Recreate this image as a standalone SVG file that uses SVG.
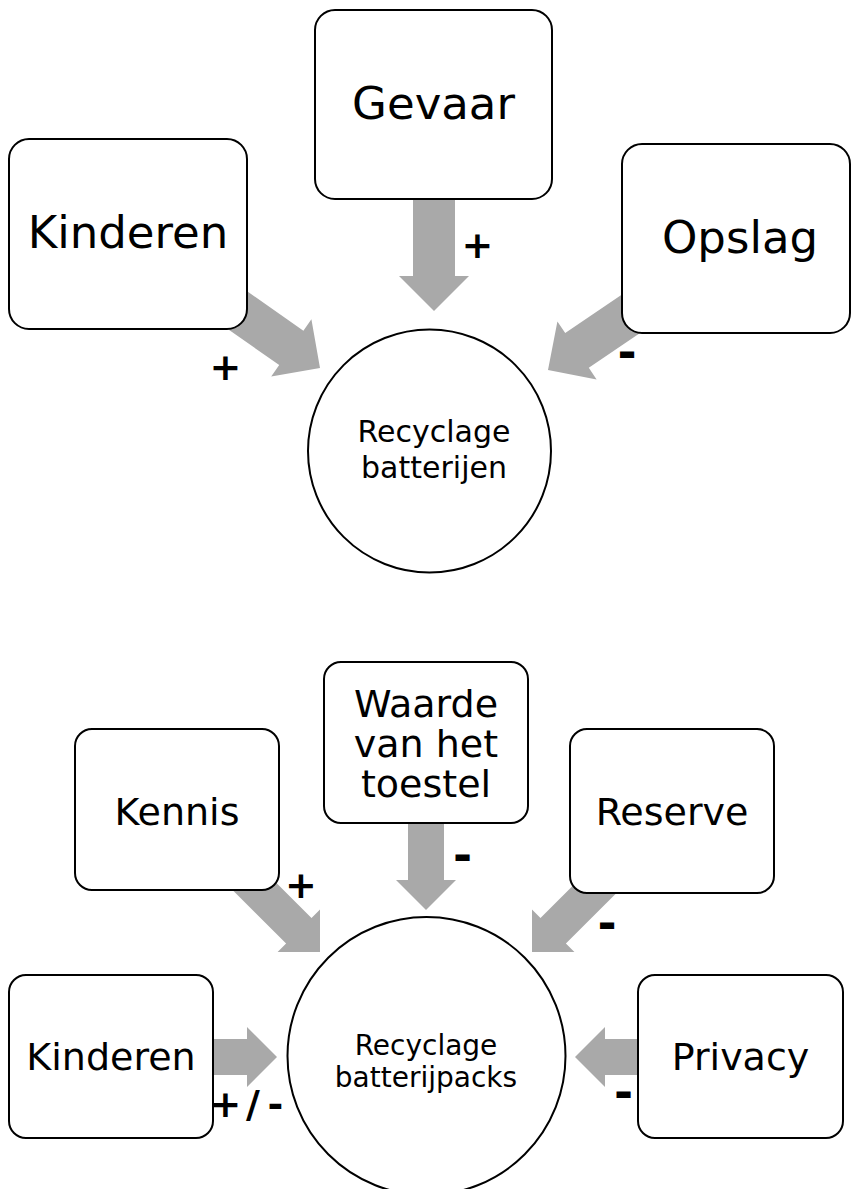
<svg xmlns="http://www.w3.org/2000/svg" width="851" height="1189" viewBox="0 0 851 1189">
  <style>
    .box { fill: #ffffff; stroke: #000000; stroke-width: 2; }
    .hub { fill: #ffffff; stroke: #000000; stroke-width: 2; }
    .arrow { fill: #A9A9A9; stroke: none; }
    .lbl { font-family: "DejaVu Sans", Verdana, sans-serif; fill: #000000; text-anchor: middle; }
    .big { font-size: 45px; }
    .mid { font-size: 38px; }
    .hubtxt { font-size: 30px; }
    .hubtxt2 { font-size: 28px; }
    .sign { font-family: "DejaVu Sans", Verdana, sans-serif; font-weight: bold; fill: #000000; text-anchor: middle; }
  </style>

  <rect x="0" y="0" width="851" height="1189" fill="#ffffff"/>

  <!-- block arrows (drawn first so the boxes cover their tails) -->
  <g id="connectors">
    <!-- upper diagram -->
    <polygon class="arrow" points="205.5,313.5 279.2,365.1 271.2,376.6 320,368 311.4,319.2 303.4,330.7 229.7,279.1"/>
    <polygon class="arrow" points="413,180 413,276 399,276 434,311 469,276 455,276 455,180"/>
    <polygon class="arrow" points="639.7,282.5 565.2,333 557.4,321.4 548,370 596.6,379.4 588.8,367.8 663.3,317.3"/>
    <!-- lower diagram -->
    <polygon class="arrow" points="229.5,886.9 286.1,943.5 277.6,952 320,952 320,909.6 311.5,918.1 254.9,861.5"/>
    <polygon class="arrow" points="408,800 408,880 396,880 426,910 456,880 444,880 444,800"/>
    <polygon class="arrow" points="597.1,861.5 540.5,918.1 532,909.6 532,952 574.4,952 565.9,943.5 622.5,886.9"/>
    <polygon class="arrow" points="180,1039 247,1039 247,1027 277,1057 247,1087 247,1075 180,1075"/>
    <polygon class="arrow" points="670,1039 605,1039 605,1027 575,1057 605,1087 605,1075 670,1075"/>

    <!-- influence signs -->
    <text class="sign" x="225.5" y="380" font-size="38">+</text>
    <text class="sign" x="477.5" y="258" font-size="38">+</text>
    <text class="sign" x="627" y="368" font-size="46">-</text>
    <text class="sign" x="301" y="898" font-size="38">+</text>
    <text class="sign" x="462.5" y="871" font-size="46">-</text>
    <text class="sign" x="607" y="939" font-size="46">-</text>
    <text class="sign" x="623.5" y="1108" font-size="46">-</text>
    <text class="sign" x="225.5 253 275.5" y="1117" font-size="38">+/-</text>
  </g>

  <!-- upper diagram: recycling of batteries -->
  <g id="kinderen-top">
    <rect class="box" x="9" y="139" width="238" height="190" rx="20"/>
    <text class="lbl big" x="128" y="248">Kinderen</text>
  </g>
  <g id="gevaar">
    <rect class="box" x="315" y="10" width="237" height="189" rx="20"/>
    <text class="lbl big" x="433.5" y="119">Gevaar</text>
  </g>
  <g id="opslag">
    <rect class="box" x="622" y="144" width="228" height="189" rx="20"/>
    <text class="lbl big" x="740" y="253">Opslag</text>
  </g>
  <g id="recyclage-batterijen">
    <circle class="hub" cx="429.5" cy="451" r="121.5"/>
    <text class="lbl hubtxt" x="434" y="442">Recyclage</text>
    <text class="lbl hubtxt" x="434" y="478">batterijen</text>
  </g>

  <!-- lower diagram: recycling of battery packs -->
  <g id="kennis">
    <rect class="box" x="75" y="729" width="204" height="161" rx="17"/>
    <text class="lbl mid" x="177" y="825">Kennis</text>
  </g>
  <g id="waarde">
    <rect class="box" x="324" y="662" width="204" height="161" rx="17"/>
    <text class="lbl mid" x="426" y="717">Waarde</text>
    <text class="lbl mid" x="426" y="757">van het</text>
    <text class="lbl mid" x="426" y="797">toestel</text>
  </g>
  <g id="reserve">
    <rect class="box" x="570" y="729" width="204" height="164" rx="17"/>
    <text class="lbl mid" x="672" y="825">Reserve</text>
  </g>
  <g id="kinderen-bottom">
    <rect class="box" x="9" y="975" width="204" height="163" rx="17"/>
    <text class="lbl mid" x="111" y="1070">Kinderen</text>
  </g>
  <g id="privacy">
    <rect class="box" x="638" y="975" width="205" height="163" rx="17"/>
    <text class="lbl mid" x="740.5" y="1070">Privacy</text>
  </g>
  <g id="recyclage-batterijpacks">
    <circle class="hub" cx="426.5" cy="1056" r="139"/>
    <text class="lbl hubtxt2" x="426" y="1055">Recyclage</text>
    <text class="lbl hubtxt2" x="426" y="1087">batterijpacks</text>
  </g>
</svg>
